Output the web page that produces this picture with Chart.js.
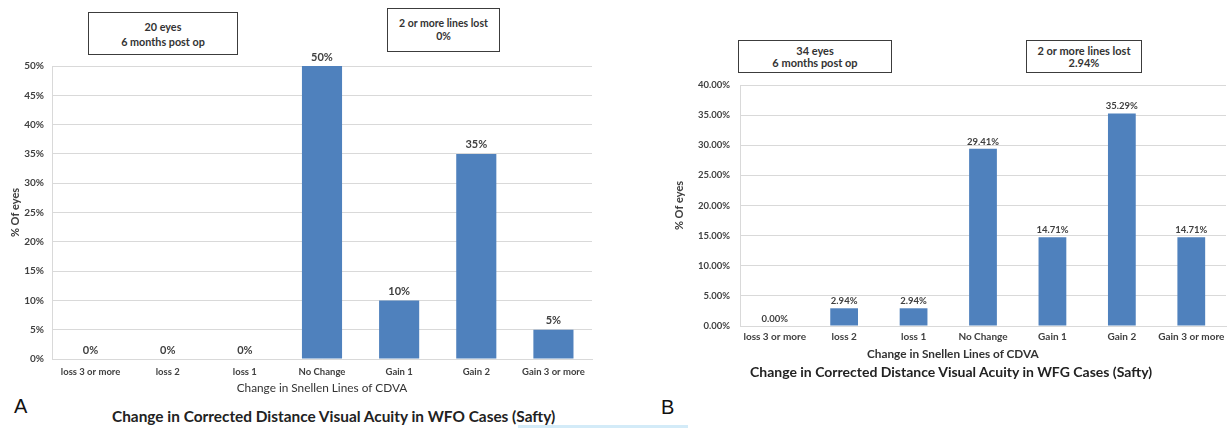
<!DOCTYPE html>
<html>
<head>
<meta charset="utf-8">
<script src="https://cdn.jsdelivr.net/npm/chart.js@4/dist/chart.umd.min.js"></script>
<style>
  html, body { margin: 0; padding: 0; background: #fff; }
  body { width: 1231px; height: 428px; position: relative; overflow: hidden; font-family: Lato, "Open Sans", sans-serif; }
  canvas { position: absolute; }
  .box { position: absolute; box-sizing: border-box; border: 1.5px solid #3c3c3c; background: #fff;
         display: flex; flex-direction: column; justify-content: center; align-items: center;
         font-weight: bold; color: #333; font-size: 10.8px; text-align: center; white-space: nowrap; }
  .txt { position: absolute; white-space: nowrap; color: #222; }
  .panel { font-family: "Liberation Sans", Arial, sans-serif; font-size: 20px; color: #111; }
  .title { font-weight: bold; }
</style>
</head>
<body>
<canvas id="chartA" width="600" height="395" style="left:0;top:0;width:600px;height:395px"></canvas>
<canvas id="chartB" width="566" height="362" style="left:665px;top:0;width:566px;height:362px"></canvas>

<div class="box" style="left:88px;top:12px;width:150px;height:43px;line-height:15px"><div>20 eyes</div><div>6 months post op</div></div>
<div class="box" style="left:387px;top:8px;width:113px;height:44px;line-height:13px;font-size:10.5px"><div>2 or more lines lost</div><div>0%</div></div>
<div class="box" style="left:738px;top:40px;width:154px;height:33px;line-height:12px;font-size:11px"><div>34 eyes</div><div>6 months post op</div></div>
<div class="box" style="left:1026px;top:40px;width:116px;height:33px;line-height:12px;font-size:11px"><div>2 or more lines lost</div><div>2.94%</div></div>

<div class="txt" style="left:867px;top:346px;font-size:11.8px;font-weight:bold;color:#333">Change in Snellen Lines of CDVA</div>
<div class="txt title" style="left:750px;top:363px;font-size:14px">Change in Corrected Distance Visual Acuity in WFG Cases (Safty)</div>
<div class="txt title" style="left:112px;top:407px;font-size:15.4px">Change in Corrected Distance Visual Acuity in WFO Cases (Safty)</div>
<div class="txt panel" style="left:14px;top:395px">A</div>
<div class="txt panel" style="left:661px;top:396px">B</div>
<div style="position:absolute;left:518px;top:425px;width:170px;height:3px;background:#d3ebf8"></div>

<script>
// Snellen line change categories shared by both panels
const categories = ['loss 3 or more', 'loss 2', 'loss 1', 'No Change', 'Gain 1', 'Gain 2', 'Gain 3 or more'];

// Panel A: WFO cases, % of eyes
const wfoValues = [0, 0, 0, 50, 10, 35, 5];
const wfoTickMax = 50;

// Panel B: WFG cases, % of eyes
const wfgValues = [0, 2.94, 2.94, 29.41, 14.71, 35.29, 14.71];
const wfgTickMax = 40;

const tickStep = 5;
const barColor = '#4f81bd';
const gridColor = '#d9d9d9';
const textColor = '#404040';
const FONT = "Lato, 'Open Sans', sans-serif";

// Draws each bar's value just above its top
function valueLabels(format, size, gap) {
  return {
    id: 'valueLabels',
    afterDatasetsDraw(chart) {
      const ctx = chart.ctx;
      const meta = chart.getDatasetMeta(0);
      const data = chart.data.datasets[0].data;
      ctx.save();
      ctx.font = 'bold ' + size + 'px ' + FONT;
      ctx.fillStyle = textColor;
      ctx.textAlign = 'center';
      ctx.textBaseline = 'middle';
      meta.data.forEach((bar, i) => {
        ctx.fillText(format(data[i]), bar.x, bar.y - gap);
      });
      ctx.restore();
    }
  };
}

function makeChart(id, values, max, cfg) {
  return new Chart(document.getElementById(id), {
    type: 'bar',
    data: {
      labels: categories,
      datasets: [{ data: values, backgroundColor: barColor, borderWidth: 0,
                   categoryPercentage: 1, barPercentage: cfg.barPct }]
    },
    options: {
      responsive: false,
      animation: false,
      layout: { padding: { top: cfg.padTop, right: cfg.padRight, left: 0, bottom: 0 } },
      plugins: { legend: { display: false }, tooltip: { enabled: false } },
      scales: {
        x: {
          grid: { display: false, drawTicks: false },
          border: { display: true, color: gridColor, width: 1 },
          ticks: { autoSkip: false, maxRotation: 0, padding: cfg.xTickPad, color: textColor,
                   font: { family: FONT, size: cfg.xTickSize, weight: 'bold' } },
          title: cfg.xTitle,
          afterFit: s => { s.height = cfg.xHeight; }
        },
        y: {
          min: 0, max: max,
          grid: { color: gridColor, drawTicks: false },
          border: { display: true, color: gridColor, width: 1 },
          ticks: { stepSize: tickStep, padding: cfg.yTickPad, color: textColor,
                   font: { family: FONT, size: cfg.yTickSize, weight: 'bold' },
                   callback: cfg.tickFmt },
          title: { display: true, text: '% Of eyes', color: textColor,
                   font: { family: FONT, size: 11, weight: 'bold' },
                   padding: { top: cfg.yTitlePad, bottom: 0 } },
          afterFit: s => { s.width = cfg.yWidth; }
        }
      }
    },
    plugins: [valueLabels(cfg.labelFmt, cfg.labelSize, cfg.labelGap)]
  });
}

makeChart('chartA', wfoValues, wfoTickMax, {
  barPct: 0.52, padTop: 66, padRight: 8, xHeight: 36, yWidth: 52,
  xTickPad: 7, xTickSize: 9.5, yTickPad: 8, yTickSize: 10, yTitlePad: 9,
  tickFmt: v => v + '%', labelFmt: v => v + '%', labelSize: 11, labelGap: 9,
  xTitle: { display: true, text: 'Change in Snellen Lines of CDVA', color: '#333',
            font: { family: FONT, size: 11.8 }, padding: { top: 0, bottom: 0 } }
});

makeChart('chartB', wfgValues, wfgTickMax, {
  barPct: 0.40, padTop: 85, padRight: 5, xHeight: 36, yWidth: 75,
  xTickPad: 5, xTickSize: 10, yTickPad: 10, yTickSize: 9.5, yTitlePad: 8,
  tickFmt: v => v.toFixed(2) + '%', labelFmt: v => v.toFixed(2) + '%', labelSize: 9.5, labelGap: 7,
  xTitle: { display: false }
});
</script>
</body>
</html>
